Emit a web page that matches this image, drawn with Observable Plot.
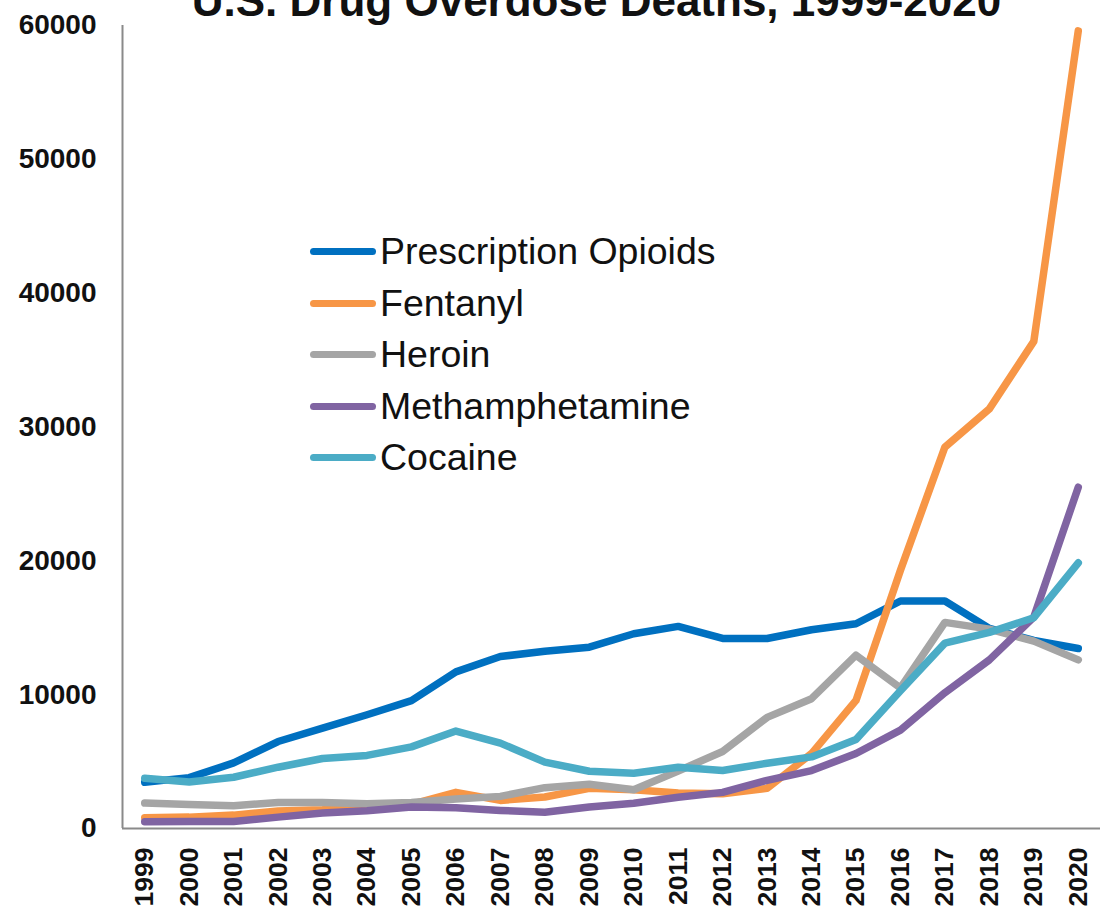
<!DOCTYPE html>
<html>
<head>
<meta charset="utf-8">
<script src="https://cdn.jsdelivr.net/npm/d3@7"></script>
<script src="https://cdn.jsdelivr.net/npm/@observablehq/plot@0.6"></script>
<style>
  html, body { margin: 0; padding: 0; background: #fff; }
  #wrap { position: relative; width: 1104px; height: 912px; overflow: hidden; font-family: "Liberation Sans", Arial, sans-serif; }
  #legend { position: absolute; left: 310px; top: 226px; }
  .row { display: flex; align-items: center; height: 51.5px; }
  .sw { width: 66px; height: 7px; border-radius: 4px; margin-right: 4px; }
  .lab { font-size: 37.5px; color: #111; line-height: 1; }
</style>
</head>
<body>
<div id="wrap"></div>
<script>
const years = [1999, 2000, 2001, 2002, 2003, 2004, 2005, 2006, 2007, 2008, 2009, 2010, 2011, 2012, 2013, 2014, 2015, 2016, 2017, 2018, 2019, 2020];
const seriesNames = ["Prescription Opioids", "Fentanyl", "Heroin", "Methamphetamine", "Cocaine"];
const seriesColors = ["#0070C0", "#F79646", "#A5A5A5", "#8064A2", "#4BACC6"];
const prescriptionOpioids = [3450, 3800, 4900, 6500, 7500, 8500, 9550, 11700, 12850, 13250, 13550, 14550, 15100, 14200, 14200, 14850, 15300, 17000, 17000, 14950, 14050, 13450];
const fentanyl = [800, 850, 1000, 1300, 1400, 1650, 1800, 2700, 2100, 2350, 3000, 2900, 2650, 2600, 3000, 5600, 9570, 19300, 28500, 31350, 36400, 59600];
const heroin = [1900, 1800, 1700, 1950, 1950, 1850, 1950, 2200, 2400, 3050, 3300, 2900, 4300, 5750, 8300, 9700, 12950, 10500, 15400, 14900, 14000, 12600];
const methamphetamine = [500, 520, 520, 850, 1150, 1330, 1600, 1550, 1350, 1220, 1600, 1880, 2330, 2700, 3600, 4330, 5600, 7350, 10150, 12600, 15800, 25500];
const cocaine = [3750, 3480, 3830, 4580, 5230, 5460, 6100, 7280, 6380, 4960, 4280, 4130, 4580, 4330, 4880, 5350, 6650, 10300, 13850, 14650, 15750, 19850];
const yTicks = [0, 10000, 20000, 30000, 40000, 50000, 60000];
const title = "U.S. Drug Overdose Deaths, 1999-2020";

const allSeries = [prescriptionOpioids, fentanyl, heroin, methamphetamine, cocaine];
const rows = [];
allSeries.forEach((vals, i) => vals.forEach((v, j) => rows.push({series: seriesNames[i], year: years[j], value: v})));

const font = "'Liberation Sans', Arial, sans-serif";
const chart = Plot.plot({
  width: 1104,
  height: 912,
  marginLeft: 122,
  marginRight: 4,
  marginTop: 25,
  marginBottom: 84,
  style: {fontFamily: font, color: "#111", background: "#fff", overflow: "visible"},
  x: {type: "linear", domain: [1998.5, 2020.5]},
  y: {domain: [0, 60000]},
  color: {domain: seriesNames, range: seriesColors},
  marks: [
    Plot.axisY(yTicks, {tickSize: 0, tickPadding: 26, fontSize: 28, fontWeight: "bold", tickFormat: d3.format("d"), label: null, fill: "#111"}),
    Plot.axisX(years, {tickSize: 0, tickPadding: 19, tickRotate: -90, fontSize: 26.5, fontWeight: "bold", tickFormat: d => String(d), label: null, fill: "#111"}),
    Plot.ruleX([1998.5], {stroke: "#8a8a8a", strokeWidth: 2}),
    Plot.ruleY([0], {stroke: "#8a8a8a", strokeWidth: 2}),
    Plot.line(rows, {x: "year", y: "value", z: "series", stroke: "series", strokeWidth: 7.5, strokeLinejoin: "round", strokeLinecap: "round"}),
    Plot.text([title], {frameAnchor: "top", dx: -15, dy: -10, lineAnchor: "bottom", fontSize: 44, fontWeight: "bold", fill: "#111"})
  ]
});
const wrap = document.getElementById("wrap");
wrap.appendChild(chart);

const legend = document.createElement("div");
legend.id = "legend";
seriesNames.forEach((name, i) => {
  const row = document.createElement("div");
  row.className = "row";
  const sw = document.createElement("div");
  sw.className = "sw";
  sw.style.background = seriesColors[i];
  const lab = document.createElement("span");
  lab.className = "lab";
  lab.textContent = name;
  row.appendChild(sw);
  row.appendChild(lab);
  legend.appendChild(row);
});
wrap.appendChild(legend);
</script>
</body>
</html>
